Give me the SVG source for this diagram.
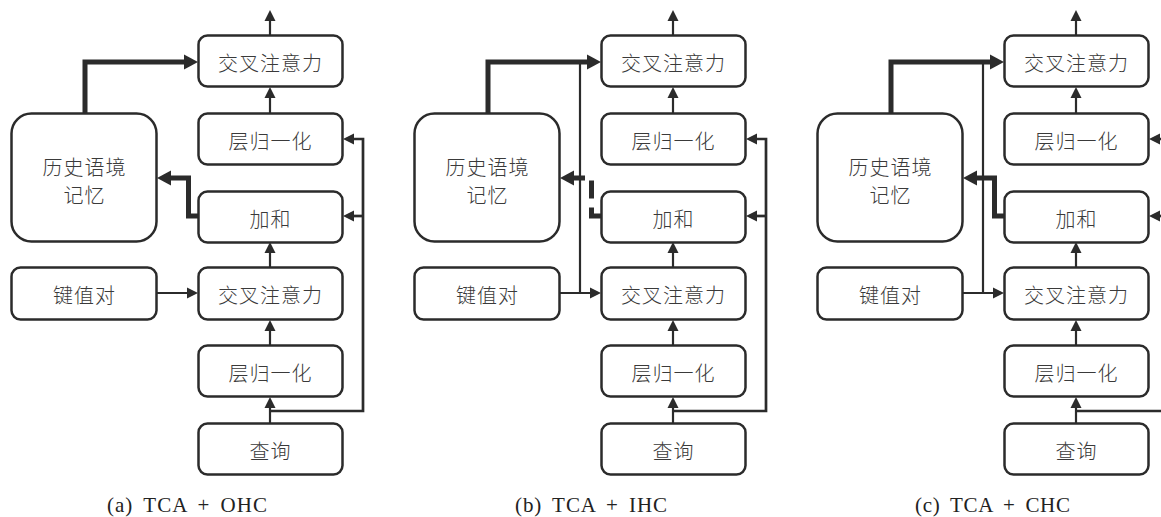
<svg xmlns="http://www.w3.org/2000/svg" width="1161" height="517" viewBox="0 0 1161 517">
<style>
.box{fill:#fff;stroke:#2b2b2b;stroke-width:2.5}
.t{font-family:"Noto Sans CJK SC","Noto Sans",sans-serif;font-size:20px;font-weight:300;fill:#3a3a3a;text-anchor:middle;dominant-baseline:central;letter-spacing:1px}
.cap{font-family:"Liberation Serif",serif;font-size:21px;fill:#222;text-anchor:middle;word-spacing:4px}
.thin{fill:none;stroke:#2b2b2b;stroke-width:2.2}
.res{fill:none;stroke:#2b2b2b;stroke-width:2.7}
.thick{fill:none;stroke:#2b2b2b;stroke-width:5}
.dash{fill:none;stroke:#2b2b2b;stroke-width:5;stroke-dasharray:18 9}
</style>
<defs>
<marker id="ah" markerUnits="userSpaceOnUse" markerWidth="11" markerHeight="11" refX="4" refY="5.5" orient="auto" overflow="visible">
<path d="M0,0 L11,5.5 L0,11 z" fill="#2b2b2b"/>
</marker>
<marker id="ahT" markerUnits="userSpaceOnUse" markerWidth="14" markerHeight="15" refX="4" refY="7.5" orient="auto" overflow="visible">
<path d="M0,0 L14,7.5 L0,15 z" fill="#2b2b2b"/>
</marker>
</defs>

<!-- Panel (a) -->
<g id="panel-a">
<g id="connectors-a">
<path class="thin" d="M270,35 V17" marker-end="url(#ah)"/>
<path class="thin" d="M270,113 V94" marker-end="url(#ah)"/>
<path class="thin" d="M270,267 V249" marker-end="url(#ah)"/>
<path class="thin" d="M270,345 V327" marker-end="url(#ah)"/>
<path class="thin" d="M270,423 V404" marker-end="url(#ah)"/>
<path class="thin" d="M157,293 H191" marker-end="url(#ah)"/>
<path class="res" d="M270,411 H363 V139 H350" marker-end="url(#ah)"/>
<path class="res" d="M363,216 H350" marker-end="url(#ah)"/>
<path class="thick" d="M85,113 V62 H188" marker-end="url(#ahT)"/>
<path class="thick" d="M198,216 H188.5 V178 H167" marker-end="url(#ahT)"/>
</g>
<g id="a-ca-top"><rect class="box" x="198.5" y="35.5" width="144" height="51" rx="9"/><text class="t" x="270.5" y="62">交叉注意力</text></g>
<g id="a-ln-top"><rect class="box" x="198.5" y="113.5" width="144" height="51" rx="9"/><text class="t" x="270.5" y="140">层归一化</text></g>
<g id="a-add"><rect class="box" x="198.5" y="191.5" width="144" height="51" rx="9"/><text class="t" x="270.5" y="218">加和</text></g>
<g id="a-ca-bot"><rect class="box" x="198.5" y="267.5" width="144" height="52" rx="9"/><text class="t" x="270.5" y="294">交叉注意力</text></g>
<g id="a-ln-bot"><rect class="box" x="198.5" y="345.5" width="144" height="51" rx="9"/><text class="t" x="270.5" y="372">层归一化</text></g>
<g id="a-query"><rect class="box" x="198.5" y="423.5" width="144" height="51" rx="9"/><text class="t" x="270.5" y="450">查询</text></g>
<g id="a-memory"><rect class="box" x="11.5" y="113.5" width="145" height="128" rx="20"/><text class="t" x="84.5" y="166">历史语境</text><text class="t" x="84.5" y="194">记忆</text></g>
<g id="a-kv"><rect class="box" x="11.5" y="267.5" width="145" height="52" rx="9"/><text class="t" x="84.5" y="294">键值对</text></g>
<text class="cap" x="187" y="512" textLength="160" lengthAdjust="spacing">(a) TCA + OHC</text>
</g>

<!-- Panel (b) -->
<g id="panel-b" transform="translate(403,0)">
<g id="connectors-b">
<path class="thin" d="M177,62 V293"/>
<path class="thin" d="M270,35 V17" marker-end="url(#ah)"/>
<path class="thin" d="M270,113 V94" marker-end="url(#ah)"/>
<path class="thin" d="M270,267 V249" marker-end="url(#ah)"/>
<path class="thin" d="M270,345 V327" marker-end="url(#ah)"/>
<path class="thin" d="M270,423 V404" marker-end="url(#ah)"/>
<path class="thin" d="M157,293 H191" marker-end="url(#ah)"/>
<path class="res" d="M270,411 H363 V139 H350" marker-end="url(#ah)"/>
<path class="res" d="M363,216 H350" marker-end="url(#ah)"/>
<path class="thick" d="M85,113 V62 H188" marker-end="url(#ahT)"/>
<path class="dash" d="M198,216 H188.5 V178 H167" marker-end="url(#ahT)"/>
</g>
<g id="b-ca-top"><rect class="box" x="198.5" y="35.5" width="144" height="51" rx="9"/><text class="t" x="270.5" y="62">交叉注意力</text></g>
<g id="b-ln-top"><rect class="box" x="198.5" y="113.5" width="144" height="51" rx="9"/><text class="t" x="270.5" y="140">层归一化</text></g>
<g id="b-add"><rect class="box" x="198.5" y="191.5" width="144" height="51" rx="9"/><text class="t" x="270.5" y="218">加和</text></g>
<g id="b-ca-bot"><rect class="box" x="198.5" y="267.5" width="144" height="52" rx="9"/><text class="t" x="270.5" y="294">交叉注意力</text></g>
<g id="b-ln-bot"><rect class="box" x="198.5" y="345.5" width="144" height="51" rx="9"/><text class="t" x="270.5" y="372">层归一化</text></g>
<g id="b-query"><rect class="box" x="198.5" y="423.5" width="144" height="51" rx="9"/><text class="t" x="270.5" y="450">查询</text></g>
<g id="b-memory"><rect class="box" x="11.5" y="113.5" width="145" height="128" rx="20"/><text class="t" x="84.5" y="166">历史语境</text><text class="t" x="84.5" y="194">记忆</text></g>
<g id="b-kv"><rect class="box" x="11.5" y="267.5" width="145" height="52" rx="9"/><text class="t" x="84.5" y="294">键值对</text></g>
<text class="cap" x="188" y="512" textLength="152" lengthAdjust="spacing">(b) TCA + IHC</text>
</g>

<!-- Panel (c) -->
<g id="panel-c" transform="translate(806,0)">
<g id="connectors-c">
<path class="thin" d="M177,62 V293"/>
<path class="thin" d="M270,35 V17" marker-end="url(#ah)"/>
<path class="thin" d="M270,113 V94" marker-end="url(#ah)"/>
<path class="thin" d="M270,267 V249" marker-end="url(#ah)"/>
<path class="thin" d="M270,345 V327" marker-end="url(#ah)"/>
<path class="thin" d="M270,423 V404" marker-end="url(#ah)"/>
<path class="thin" d="M157,293 H191" marker-end="url(#ah)"/>
<path class="res" d="M270,411 H363 V139 H350" marker-end="url(#ah)"/>
<path class="res" d="M363,216 H350" marker-end="url(#ah)"/>
<path class="thick" d="M85,113 V62 H188" marker-end="url(#ahT)"/>
<path class="thick" d="M198,216 H188.5 V178 H167" marker-end="url(#ahT)"/>
</g>
<g id="c-ca-top"><rect class="box" x="198.5" y="35.5" width="144" height="51" rx="9"/><text class="t" x="270.5" y="62">交叉注意力</text></g>
<g id="c-ln-top"><rect class="box" x="198.5" y="113.5" width="144" height="51" rx="9"/><text class="t" x="270.5" y="140">层归一化</text></g>
<g id="c-add"><rect class="box" x="198.5" y="191.5" width="144" height="51" rx="9"/><text class="t" x="270.5" y="218">加和</text></g>
<g id="c-ca-bot"><rect class="box" x="198.5" y="267.5" width="144" height="52" rx="9"/><text class="t" x="270.5" y="294">交叉注意力</text></g>
<g id="c-ln-bot"><rect class="box" x="198.5" y="345.5" width="144" height="51" rx="9"/><text class="t" x="270.5" y="372">层归一化</text></g>
<g id="c-query"><rect class="box" x="198.5" y="423.5" width="144" height="51" rx="9"/><text class="t" x="270.5" y="450">查询</text></g>
<g id="c-memory"><rect class="box" x="11.5" y="113.5" width="145" height="128" rx="20"/><text class="t" x="84.5" y="166">历史语境</text><text class="t" x="84.5" y="194">记忆</text></g>
<g id="c-kv"><rect class="box" x="11.5" y="267.5" width="145" height="52" rx="9"/><text class="t" x="84.5" y="294">键值对</text></g>
<text class="cap" x="186.5" y="512" textLength="155" lengthAdjust="spacing">(c) TCA + CHC</text>
</g>
</svg>
